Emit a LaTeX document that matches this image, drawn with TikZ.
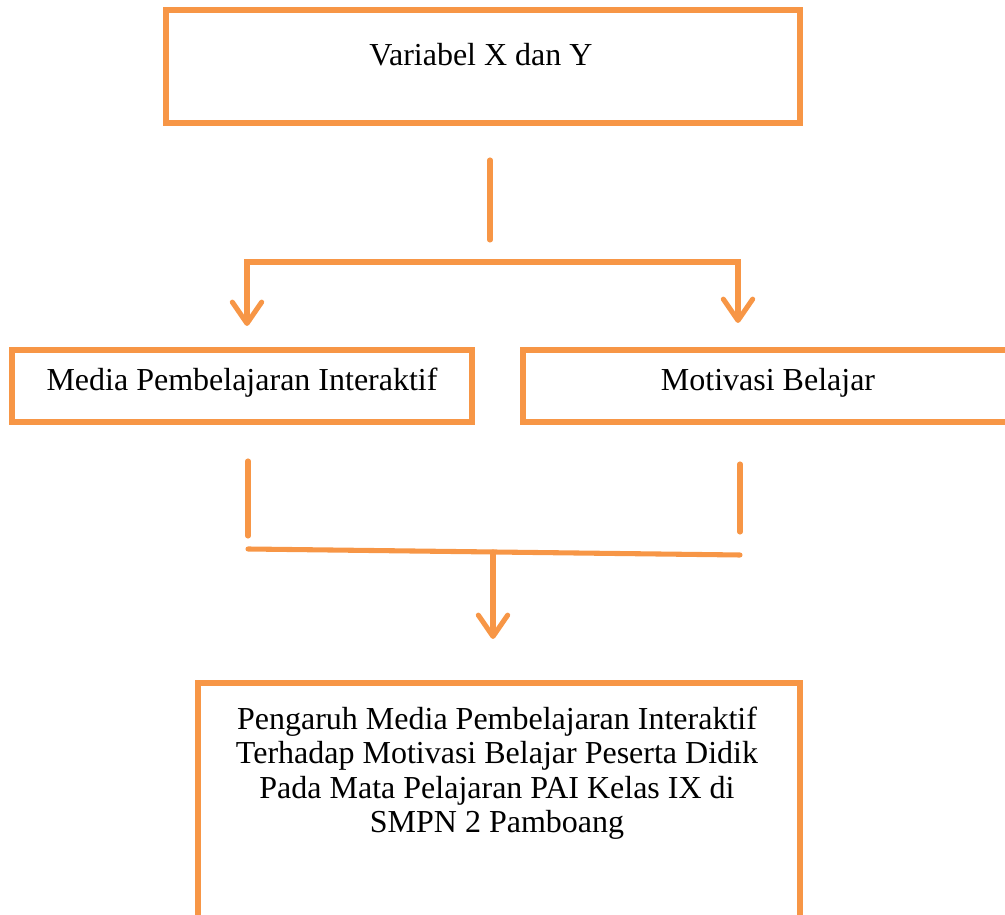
\documentclass[tikz,border=0pt]{standalone}
\usepackage{fontspec}
\setmainfont{Liberation Serif}
\usetikzlibrary{arrows.meta}
\definecolor{orng}{RGB}{247,150,70}
\begin{document}
\begin{tikzpicture}[x=0.375pt,y=-0.375pt,
  box/.style={draw=orng,line width=1.9pt,rectangle,inner sep=0pt},
  lbl/.style={font=\fontsize{12}{12.9}\selectfont,align=center,inner sep=0pt},
  conn/.style={draw=orng,line width=1.9pt,line cap=round,line join=miter},
  arr/.style={-{Straight Barb[length=8pt,width=11pt,line cap=round,line join=round]}}]
\useasboundingbox (0,0) rectangle (1005,915);
\clip (0,0) rectangle (1005,915);
% boxes
\node[box,minimum width=237.75pt,minimum height=42.375pt] (top) at (483,66.5) {};
\node[box,minimum width=172.5pt,minimum height=27pt] (mleft) at (242,386) {};
\node[box,minimum width=184.5pt,minimum height=27pt] (mright) at (769,386) {};
\node[box,minimum width=225.75pt,minimum height=94.5pt] (bot) at (499,809) {};
% texts
\node[lbl] (ttop) at (481,55) {Variabel X dan Y};
\node[lbl] (tleft) at (242,383) {Media Pembelajaran Interaktif};
\node[lbl] (tright) at (768,383) {Motivasi Belajar};
\node[lbl] (tbot) at (497,773) {Pengaruh Media Pembelajaran Interaktif\\Terhadap Motivasi Belajar Peserta Didik\\Pada Mata Pelajaran PAI Kelas IX di\\SMPN 2 Pamboang};
% connectors top
\coordinate (s1a) at (490,160);
\coordinate (s1b) at (490,240);
\coordinate (h1) at (493,262);
\coordinate (a1) at (247,326);
\coordinate (a2) at (738,323);
\draw[conn] (s1a) -- (s1b);
\draw[conn,arr] (h1) -| (a1);
\draw[conn,arr] (h1) -| (a2);
% connectors bottom
\coordinate (s2a) at (248,461);
\coordinate (s2b) at (248,536);
\coordinate (s3a) at (740,464);
\coordinate (s3b) at (740,532);
\coordinate (h2l) at (248,549);
\coordinate (h2r) at (740,555);
\coordinate (h2m) at (493,552);
\coordinate (a3) at (493,639);
\draw[conn] (s2a) -- (s2b);
\draw[conn] (s3a) -- (s3b);
\draw[conn] (h2l) -- (h2r);
\draw[conn,arr] (h2m) -- (a3);
\end{tikzpicture}
\end{document}
